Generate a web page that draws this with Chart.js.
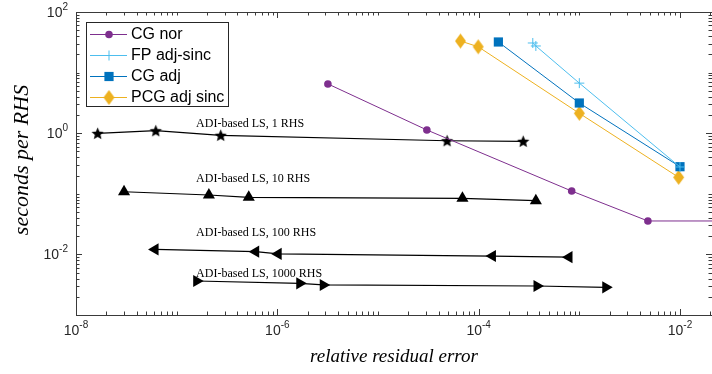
<!DOCTYPE html>
<html>
<head>
<meta charset="utf-8">
<style>
  html, body { margin: 0; padding: 0; background: #fff; }
</style>
<script src="https://cdn.jsdelivr.net/npm/chart.js@4.4.1/dist/chart.umd.min.js"></script>
</head>
<body>
<canvas id="myChart" width="712" height="374"></canvas>
<script>
// data (log-log)
const cgNorX = [3.18e-6, 3.06e-5, 8.4e-4, 4.8e-3, 1e-1];
const cgNorY = [6.5, 1.13, 0.111, 0.0356, 0.0356];

const fpAdjX = [3.45e-4, 3.7e-4, 1.0e-3, 1.0e-2];
const fpAdjY = [30.8, 27.5, 6.7, 0.277];

const cgAdjX = [1.57e-4, 1.0e-3, 1.0e-2];
const cgAdjY = [32.0, 3.15, 0.28];

const pcgAdjX = [6.6e-5, 9.9e-5, 1.0e-3, 9.7e-3];
const pcgAdjY = [33.2, 26.7, 2.13, 0.187];

const adi1X = [1.64e-8, 6.2e-8, 2.74e-7, 4.86e-5, 2.77e-4];
const adi1Y = [0.995, 1.10, 0.923, 0.751, 0.735];

const adi10X = [3.0e-8, 2.09e-7, 5.2e-7, 6.9e-5, 3.7e-4];
const adi10Y = [0.108, 0.0955, 0.0875, 0.0843, 0.0769];

const adi100X = [6.1e-8, 6.1e-7, 1.02e-6, 1.37e-4, 7.9e-4];
const adi100Y = [0.0121, 0.0111, 0.0102, 0.0094, 0.0090];

const adi1000X = [1.58e-7, 1.67e-6, 2.86e-6, 3.8e-4, 1.83e-3];
const adi1000Y = [0.00364, 0.00333, 0.00313, 0.00301, 0.00286];

const adiLabels = ['ADI-based LS, 1 RHS', 'ADI-based LS, 10 RHS', 'ADI-based LS, 100 RHS', 'ADI-based LS, 1000 RHS'];
const adiLabelX = 1.56e-7;
const adiLabelY = [1.42, 0.175, 0.0225, 0.00475];

const xTickExp = [-8, -6, -4, -2];
const yTickExp = [2, 0, -2];

const pts = (xs, ys) => xs.map((x, i) => ({ x: x, y: ys[i] }));

function starMarker(r) {
  const c = document.createElement('canvas');
  const s = Math.ceil(r * 2 + 2);
  c.width = s; c.height = s;
  const g = c.getContext('2d');
  g.fillStyle = '#000';
  g.beginPath();
  for (let i = 0; i < 10; i++) {
    const a = -Math.PI / 2 + i * Math.PI / 5;
    const rr = i % 2 ? r * 0.45 : r;
    g.lineTo(s / 2 + rr * Math.cos(a), s / 2 + 0.5 + rr * Math.sin(a));
  }
  g.closePath();
  g.fill();
  return c;
}

function diamondMarker(hw, hh, color) {
  const c = document.createElement('canvas');
  c.width = Math.ceil(hw * 2 + 2); c.height = Math.ceil(hh * 2 + 2);
  const g = c.getContext('2d');
  const cx = c.width / 2, cy = c.height / 2;
  g.fillStyle = color;
  g.beginPath();
  g.moveTo(cx, cy - hh); g.lineTo(cx + hw, cy); g.lineTo(cx, cy + hh); g.lineTo(cx - hw, cy);
  g.closePath();
  g.fill();
  return c;
}

const purple = '#7E2F8E', lightBlue = '#4DBEEE', blue = '#0072BD', orange = '#EDB120';
const star = starMarker(6.5);
const diamond = diamondMarker(5.5, 7.5, orange);

const datasets = [
  { label: 'CG nor', data: pts(cgNorX, cgNorY), borderColor: purple, backgroundColor: purple,
    borderWidth: 1, pointStyle: 'circle', pointRadius: 3.8, pointBorderWidth: 0, legend: true },
  { label: 'FP adj-sinc', data: pts(fpAdjX, fpAdjY), borderColor: lightBlue, backgroundColor: lightBlue,
    borderWidth: 1, pointStyle: 'cross', pointRadius: 5, pointBorderWidth: 1, legend: true },
  { label: 'CG adj', data: pts(cgAdjX, cgAdjY), borderColor: blue, backgroundColor: blue,
    borderWidth: 1, pointStyle: 'rect', pointRadius: 6.5, pointBorderWidth: 0, legend: true },
  { label: 'PCG adj sinc', data: pts(pcgAdjX, pcgAdjY), borderColor: orange, backgroundColor: orange,
    borderWidth: 1, pointStyle: diamond, pointRadius: 6, pointBorderWidth: 0, legend: true },
  { label: 'adi1', data: pts(adi1X, adi1Y), borderColor: '#000', backgroundColor: '#000',
    borderWidth: 1.2, pointStyle: star, pointRadius: 6 },
  { label: 'adi10', data: pts(adi10X, adi10Y), borderColor: '#000', backgroundColor: '#000',
    borderWidth: 1.2, pointStyle: 'triangle', pointRadius: 7, pointBorderWidth: 0 },
  { label: 'adi100', data: pts(adi100X, adi100Y), borderColor: '#000', backgroundColor: '#000',
    borderWidth: 1.2, pointStyle: 'triangle', pointRotation: -90, pointRadius: 7, pointBorderWidth: 0 },
  { label: 'adi1000', data: pts(adi1000X, adi1000Y), borderColor: '#000', backgroundColor: '#000',
    borderWidth: 1.2, pointStyle: 'triangle', pointRotation: 90, pointRadius: 7, pointBorderWidth: 0 }
];
datasets.forEach(d => { d.showLine = true; d.fill = false; d.tension = 0; });

const axisColor = '#3a3a3a';
const sans = '"Liberation Sans", Arial, sans-serif';
const serif = '"Liberation Serif", "Times New Roman", serif';

function drawPow(ctx, exp, x, y, align) {
  const base = '10', sup = String(exp);
  ctx.font = '14px ' + sans;
  const wb = ctx.measureText(base).width;
  ctx.font = '10px ' + sans;
  const ws = ctx.measureText(sup).width;
  const total = wb + ws;
  let left = align === 'center' ? x - total / 2 : x - total;
  ctx.fillStyle = '#262626';
  ctx.textAlign = 'left';
  ctx.textBaseline = 'middle';
  ctx.font = '14px ' + sans;
  ctx.fillText(base, left, y);
  ctx.font = '10px ' + sans;
  ctx.fillText(sup, left + wb, y - 6);
}

const framePlugin = {
  id: 'frame',
  afterDraw(chart) {
    const ctx = chart.ctx;
    const a = chart.chartArea;
    const xs = chart.scales.x, ys = chart.scales.y;
    ctx.save();
    ctx.strokeStyle = axisColor;
    ctx.lineWidth = 1;
    ctx.strokeRect(Math.round(a.left) + 0.5, Math.round(a.top) + 0.5,
      Math.round(a.right - a.left), Math.round(a.bottom - a.top));

    // x ticks
    for (let d = -8; d <= -2; d++) {
      for (let k = 1; k <= 9; k++) {
        const v = k * Math.pow(10, d);
        if (v < xs.min || v > xs.max * 1.0001) continue;
        const px = Math.round(xs.getPixelForValue(v)) + 0.5;
        const major = k === 1 && xTickExp.includes(d);
        const len = major ? 6 : 3.5;
        ctx.beginPath();
        ctx.moveTo(px, a.bottom); ctx.lineTo(px, a.bottom - len);
        ctx.moveTo(px, a.top); ctx.lineTo(px, a.top + len);
        ctx.stroke();
      }
    }
    // y ticks
    for (let d = -3; d <= 1; d++) {
      for (let k = 1; k <= 9; k++) {
        const v = k * Math.pow(10, d);
        if (v < ys.min || v > ys.max) continue;
        const py = Math.round(ys.getPixelForValue(v)) + 0.5;
        const major = k === 1 && yTickExp.includes(d);
        const len = major ? 6 : 3.5;
        ctx.beginPath();
        ctx.moveTo(a.left, py); ctx.lineTo(a.left + len, py);
        ctx.moveTo(a.right, py); ctx.lineTo(a.right - len, py);
        ctx.stroke();
      }
    }
    // tick labels
    xTickExp.forEach(e => drawPow(ctx, e, xs.getPixelForValue(Math.pow(10, e)), a.bottom + 16, 'center'));
    yTickExp.forEach(e => drawPow(ctx, e, a.left - 8, ys.getPixelForValue(Math.pow(10, e)) + 1, 'right'));

    // axis titles
    ctx.fillStyle = '#000';
    ctx.textAlign = 'center';
    ctx.textBaseline = 'middle';
    ctx.font = 'italic 19px ' + serif;
    ctx.fillText('relative residual error', (a.left + a.right) / 2, 357);
    ctx.save();
    ctx.translate(22, 160);
    ctx.rotate(-Math.PI / 2);
    ctx.font = 'italic 22px ' + serif;
    ctx.fillText('seconds per RHS', 0, 0);
    ctx.restore();

    // ADI annotations
    ctx.font = '12px ' + serif;
    ctx.textAlign = 'left';
    adiLabels.forEach((t, i) => {
      ctx.fillText(t, xs.getPixelForValue(adiLabelX), ys.getPixelForValue(adiLabelY[i]));
    });

    // legend
    const lx = 86.5, ly = 22.5, lw = 142, lh = 84;
    ctx.fillStyle = '#fff';
    ctx.fillRect(lx, ly, lw, lh);
    ctx.strokeStyle = '#262626';
    ctx.strokeRect(lx, ly, lw, lh);
    const rows = [34, 55, 76, 97];
    chart.data.datasets.filter(d => d.legend).forEach((d, i) => {
      const y = rows[i];
      ctx.strokeStyle = d.borderColor;
      ctx.lineWidth = 1;
      ctx.beginPath();
      ctx.moveTo(90, y + 0.5); ctx.lineTo(127, y + 0.5);
      ctx.stroke();
      ctx.fillStyle = d.backgroundColor;
      Chart.helpers.drawPoint(ctx, {
        pointStyle: d.pointStyle, radius: d.pointRadius, rotation: 0,
        borderWidth: d.pointBorderWidth
      }, 109, y + 0.5);
      ctx.fillStyle = '#000';
      ctx.font = '16px ' + sans;
      ctx.textAlign = 'left';
      ctx.textBaseline = 'middle';
      ctx.fillText(d.label, 131, y + 1);
    });
    ctx.restore();
  }
};

new Chart(document.getElementById('myChart'), {
  type: 'scatter',
  data: { datasets: datasets },
  options: {
    responsive: false,
    animation: false,
    devicePixelRatio: 1,
    layout: { autoPadding: false, padding: { left: 76, right: 0, top: 12, bottom: 59 } },
    scales: {
      x: { type: 'logarithmic', min: 1e-8, max: 0.0208, display: false },
      y: { type: 'logarithmic', min: 1e-3, max: 100, display: false }
    },
    plugins: { legend: { display: false }, tooltip: { enabled: false } }
  },
  plugins: [framePlugin]
});
</script>
</body>
</html>
